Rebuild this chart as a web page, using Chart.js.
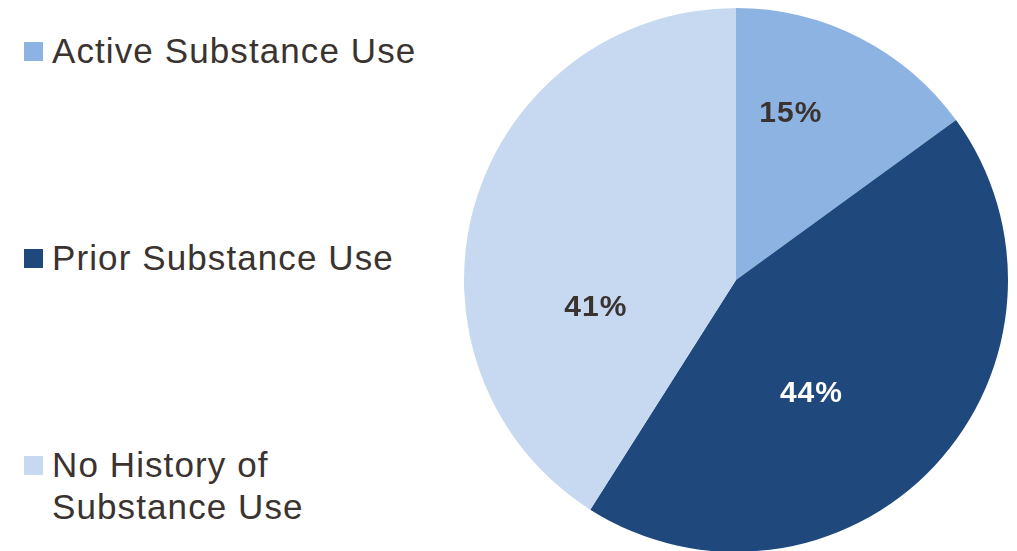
<!DOCTYPE html>
<html>
<head>
<meta charset="utf-8">
<script src="https://cdn.jsdelivr.net/npm/chart.js@4"></script>
<style>
  html, body { margin: 0; padding: 0; background: #fff; overflow: hidden; }
  body { width: 1017px; height: 551px; position: relative; font-family: "Liberation Sans", Arial, sans-serif; }
  #pieWrap { position: absolute; left: 464px; top: 8px; width: 544px; height: 544px; }
  .legend-item { position: absolute; left: 52px; font-size: 35px; line-height: 42px; letter-spacing: 1.1px; color: #3a3330; }
  .legend-box { position: absolute; width: 19px; height: 19px; left: 24px; }
</style>
</head>
<body>
<div id="legend"></div>
<div id="pieWrap"><canvas id="mainChart" width="544" height="544"></canvas></div>
<script>
// data
const categories = ["Active Substance Use", "Prior Substance Use", "No History of Substance Use"];
const legendLines = [["Active Substance Use"], ["Prior Substance Use"], ["No History of", "Substance Use"]];
const shares = [15, 44, 41];
const sliceColors = ['#8db3e2', '#1f497d', '#c6d9f1'];

// label placement (angle from 12 o'clock, fraction of radius) - Excel puts them off-centre
const labelAngle = [18, 146, 259.5];
const labelRadius = [0.653, 0.496, 0.524];
const labelColors = ['#3a3330', '#ffffff', '#3a3330'];

// legend on the left, one block per slice
const legendTops = [30, 237, 444];
const legendEl = document.getElementById('legend');
categories.forEach((c, i) => {
    const item = document.createElement('div');
    item.className = 'legend-item';
    item.style.top = legendTops[i] + 'px';
    item.innerHTML = legendLines[i].join('<br>');
    legendEl.appendChild(item);

    const box = document.createElement('div');
    box.className = 'legend-box';
    box.style.top = (legendTops[i] + 33 - 21) + 'px';
    box.style.background = sliceColors[i];
    legendEl.appendChild(box);
});

const sliceLabels = {
    id: 'sliceLabels',
    afterDatasetsDraw(chart) {
        const ctx = chart.ctx;
        const meta = chart.getDatasetMeta(0);
        ctx.save();
        ctx.font = 'bold 30px "Liberation Sans", Arial, sans-serif';
        ctx.letterSpacing = '1px';
        ctx.textAlign = 'center';
        ctx.textBaseline = 'alphabetic';
        meta.data.forEach((arc, i) => {
            const a = labelAngle[i] * Math.PI / 180;
            const r = arc.outerRadius * labelRadius[i];
            const x = arc.x + Math.sin(a) * r;
            const y = arc.y - Math.cos(a) * r;
            ctx.fillStyle = labelColors[i];
            ctx.fillText(shares[i] + '%', x, y + 10.5);
        });
        ctx.restore();
    }
};

new Chart(document.getElementById('mainChart').getContext('2d'), {
    type: 'pie',
    data: {
        labels: categories,
        datasets: [{
            data: shares,
            backgroundColor: sliceColors,
            borderWidth: 0,
            hoverOffset: 0
        }]
    },
    options: {
        responsive: false,
        animation: false,
        layout: { padding: 0 },
        plugins: {
            legend: { display: false },
            tooltip: { enabled: false }
        }
    },
    plugins: [sliceLabels]
});
</script>
</body>
</html>
